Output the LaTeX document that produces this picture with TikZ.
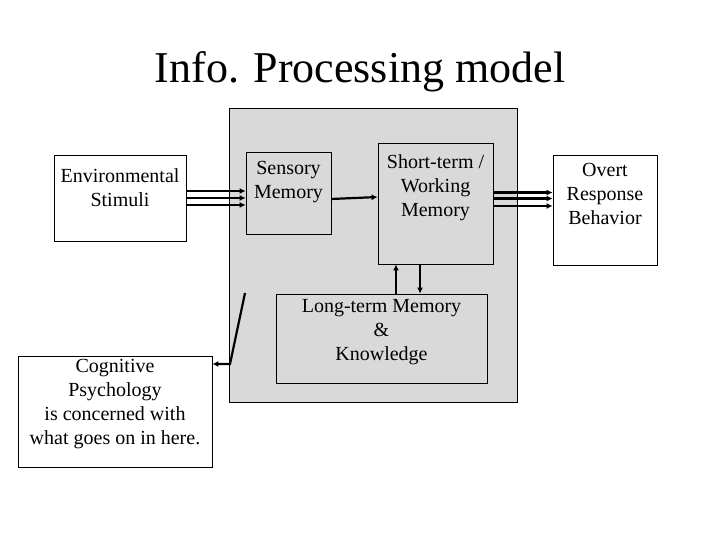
\documentclass[tikz,border=0pt]{standalone}
\usepackage{fontspec}
\setmainfont{Liberation Serif}
\usetikzlibrary{arrows.meta}

\tikzset{
  box/.style={draw, line width=0.8bp, inner sep=0pt},
  lbl/.style={font=\fontsize{20bp}{24bp}\selectfont, align=center, inner sep=0pt},
  arr/.style={line width=2.2bp, -{Latex[length=6bp,width=6bp]}}
}

\begin{document}
\begin{tikzpicture}[x=1bp,y=-1bp]

\useasboundingbox (0,0) rectangle (720,540) ;

\node[lbl, font=\fontsize{44bp}{48bp}\selectfont] (title) at (360,72) {Info. Processing model} ;

\node[box, fill=black!15, minimum width=288bp, minimum height=294bp] (panel) at (373,255) {} ;

\node[box, fill=white, minimum width=132bp, minimum height=86bp] (env) at (120,198) {} ;
\node[box, minimum width=85bp, minimum height=82bp] (sens) at (288.5,193) {} ;
\node[box, minimum width=115bp, minimum height=121bp] (stm) at (435.5,203.5) {} ;
\node[box, fill=white, minimum width=104bp, minimum height=110bp] (overt) at (605,210) {} ;
\node[box, minimum width=211bp, minimum height=89bp] (ltm) at (381.5,338.5) {} ;
\node[box, fill=white, minimum width=194bp, minimum height=111bp] (cog) at (115,411.5) {} ;

\node[lbl] (env_txt) at (120,188) {Environmental\\Stimuli} ;
\node[lbl] (sens_txt) at (288.5,182) {Sensory\\Memory} ;
\node[lbl] (stm_txt) at (435.5,188) {Short-term /\\Working\\Memory} ;
\node[lbl] (overt_txt) at (605,194) {Overt\\Response\\Behavior} ;
\node[lbl] (ltm_txt) at (381.5,332) {Long-term Memory\\\&\\Knowledge} ;
\node[lbl] (cog_txt) at (115,404.5) {Cognitive\\Psychology\\is concerned with\\what goes on in here.} ;

\draw[arr] ([yshift=7]env.east) -- ([yshift=7]env.east -| sens.west) ;
\draw[arr] ([yshift=0]env.east) -- ([yshift=0]env.east -| sens.west) ;
\draw[arr] ([yshift=-7]env.east) -- ([yshift=-7]env.east -| sens.west) ;

\draw[arr] ([yshift=-6]sens.east) -- ([yshift=6.5]stm.west) ;

\draw[arr] ([yshift=11]stm.east) -- ([yshift=11]stm.east -| overt.west) ;
\draw[arr] ([yshift=5]stm.east) -- ([yshift=5]stm.east -| overt.west) ;
\draw[arr] ([yshift=-2.5]stm.east) -- ([yshift=-2.5]stm.east -| overt.west) ;

\draw[arr] ([xshift=14.5]ltm.north) -- ([xshift=14.5]ltm.north |- stm.south) ;
\draw[arr] ([xshift=-15.5]stm.south) -- ([xshift=-15.5]stm.south |- ltm.north) ;

\coordinate (pt_top) at (245,293) ;
\coordinate (pt_bend) at (230,364) ;
\draw[arr] (pt_top) -- (pt_bend) -- (pt_bend -| cog.east) ;

\end{tikzpicture}
\end{document}
